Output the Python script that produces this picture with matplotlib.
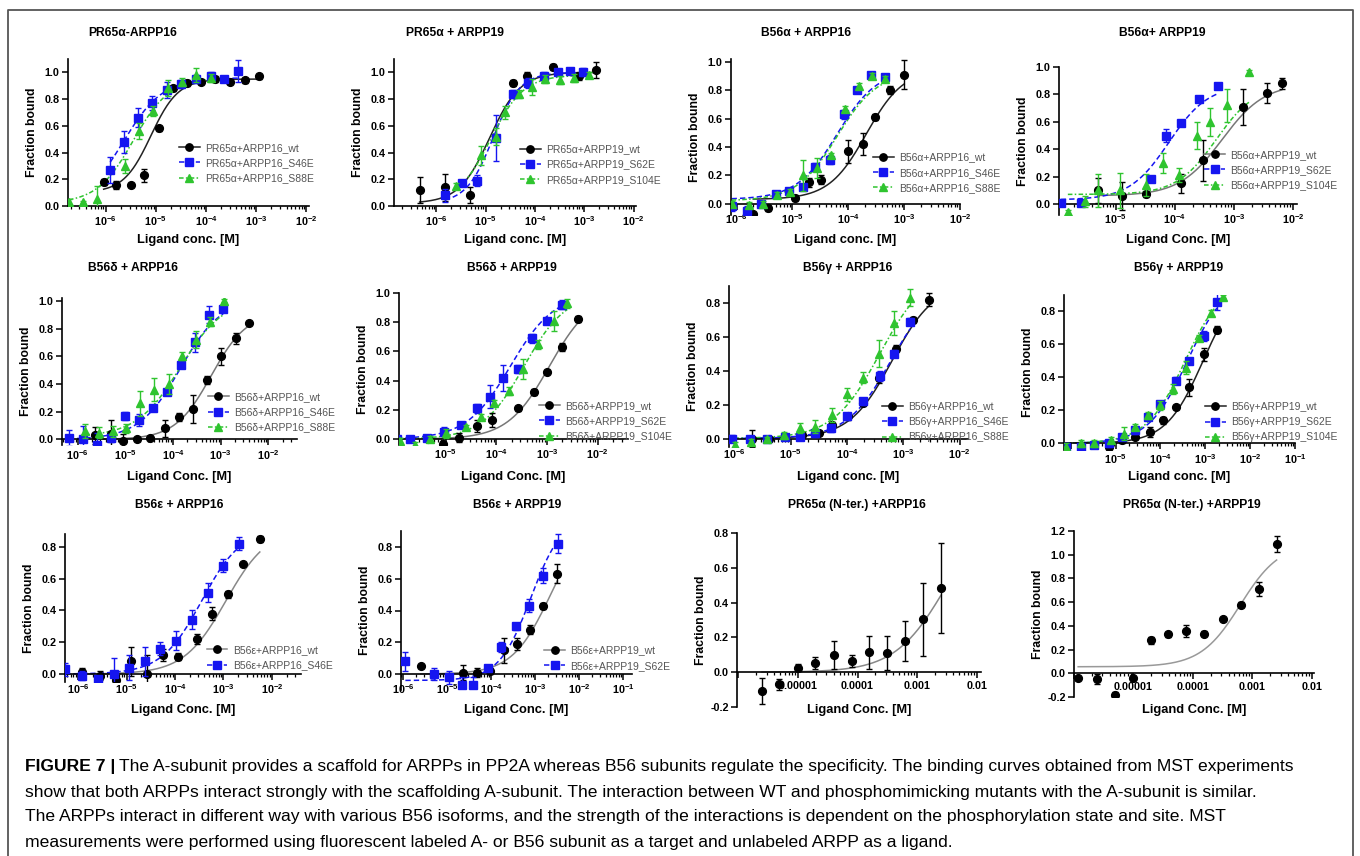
import numpy as np
import matplotlib
matplotlib.use("Agg")
import matplotlib.pyplot as plt
from matplotlib.lines import Line2D
from matplotlib.ticker import FixedLocator, LogLocator, NullFormatter

plt.rcParams['font.family'] = ['Liberation Sans', 'DejaVu Sans']
plt.rcParams['mathtext.fontset'] = 'custom'
plt.rcParams['mathtext.rm'] = 'Liberation Sans'
plt.rcParams['mathtext.bf'] = 'Liberation Sans:bold'

W, H = 1360, 856

# ---- data: log10(ligand conc [M]), fraction bound, error ----
# PR65a - ARPP16
pr16_wt_logc = [-6.04, -5.79, -5.5, -5.23, -4.93, -4.65, -4.38, -4.1, -3.82, -3.52, -3.22, -2.94]
pr16_wt_y = [0.18, 0.155, 0.155, 0.23, 0.58, 0.88, 0.92, 0.93, 0.95, 0.93, 0.94, 0.97]
pr16_wt_err = [0.02, 0.03, 0.015, 0.05, 0.02, 0.02, 0.02, 0.02, 0.02, 0.02, 0.02, 0.02]
pr16_mut1_logc = [-5.91, -5.63, -5.35, -5.08, -4.78, -4.5, -4.2, -3.91, -3.64, -3.37]
pr16_mut1_y = [0.27, 0.48, 0.66, 0.77, 0.87, 0.91, 0.95, 0.97, 0.95, 1.01]
pr16_mut1_err = [0.1, 0.08, 0.07, 0.05, 0.06, 0.03, 0.03, 0.03, 0.02, 0.08]
pr16_mut2_logc = [-6.73, -6.45, -6.17, -5.62, -5.33, -5.06, -4.76, -4.48, -4.2, -3.91]
pr16_mut2_y = [0.03, 0.03, 0.05, 0.30, 0.56, 0.71, 0.88, 0.93, 0.98, 0.96]
pr16_mut2_err = [0.02, 0.01, 0.1, 0.05, 0.06, 0.04, 0.06, 0.03, 0.05, 0.03]

# PR65a + ARPP19
pr19_wt_logc = [-6.34, -5.83, -5.31, -4.45, -4.16, -3.63, -3.11, -2.77]
pr19_wt_y = [0.12, 0.14, 0.08, 0.92, 0.97, 1.04, 0.97, 1.02]
pr19_wt_err = [0.1, 0.1, 0.06, 0.02, 0.03, 0.02, 0.03, 0.06]
pr19_mut1_logc = [-5.83, -5.48, -5.18, -4.79, -4.45, -4.15, -3.82, -3.54, -3.28, -3.03]
pr19_mut1_y = [0.08, 0.17, 0.19, 0.51, 0.84, 0.92, 0.97, 1.0, 1.01, 1.0]
pr19_mut1_err = [0.05, 0.02, 0.04, 0.17, 0.03, 0.04, 0.03, 0.02, 0.02, 0.03]
pr19_mut2_logc = [-5.61, -5.09, -4.8, -4.6, -4.32, -4.05, -3.8, -3.5, -3.2, -2.9]
pr19_mut2_y = [0.15, 0.38, 0.52, 0.7, 0.84, 0.89, 0.95, 0.94, 0.96, 0.98]
pr19_mut2_err = [0.02, 0.07, 0.06, 0.05, 0.03, 0.06, 0.03, 0.03, 0.03, 0.02]

# B56a + ARPP16
a16_wt_logc = [-5.7, -5.44, -4.96, -4.7, -4.48, -4.0, -3.74, -3.52, -3.26, -3.0]
a16_wt_y = [-0.07, -0.03, 0.04, 0.15, 0.17, 0.37, 0.42, 0.61, 0.8, 0.91]
a16_wt_err = [0.01, 0.02, 0.02, 0.03, 0.03, 0.08, 0.08, 0.02, 0.03, 0.1]
a16_mut1_logc = [-6.09, -5.81, -5.56, -5.3, -5.07, -4.81, -4.59, -4.33, -4.07, -3.85, -3.59, -3.35]
a16_mut1_y = [-0.02, -0.05, 0.0, 0.07, 0.09, 0.12, 0.26, 0.31, 0.63, 0.8, 0.91, 0.89]
a16_mut1_err = [0.03, 0.03, 0.02, 0.02, 0.02, 0.02, 0.03, 0.03, 0.03, 0.02, 0.02, 0.02]
a16_mut2_logc = [-6.09, -5.78, -5.52, -5.27, -5.04, -4.81, -4.56, -4.31, -4.06, -3.81, -3.57, -3.35]
a16_mut2_y = [0.0, -0.01, 0.0, 0.06, 0.08, 0.2, 0.25, 0.34, 0.67, 0.83, 0.9, 0.88]
a16_mut2_err = [0.02, 0.02, 0.02, 0.02, 0.02, 0.11, 0.07, 0.02, 0.02, 0.02, 0.02, 0.02]

# B56a + ARPP19
a19_wt_logc = [-5.3, -4.89, -4.48, -3.89, -3.52, -2.85, -2.44, -2.19]
a19_wt_y = [0.1, 0.06, 0.07, 0.15, 0.32, 0.71, 0.81, 0.88]
a19_wt_err = [0.09, 0.1, 0.02, 0.07, 0.15, 0.13, 0.07, 0.04]
a19_mut1_logc = [-5.93, -5.59, -4.41, -4.15, -3.89, -3.59, -3.26]
a19_mut1_y = [0.01, 0.01, 0.18, 0.5, 0.59, 0.77, 0.86]
a19_mut1_err = [0.02, 0.02, 0.02, 0.05, 0.02, 0.02, 0.02]
a19_mut2_logc = [-5.81, -5.52, -5.3, -4.93, -4.48, -4.2, -3.93, -3.63, -3.41, -3.11, -2.74]
a19_mut2_y = [-0.06, 0.02, 0.1, 0.1, 0.14, 0.3, 0.21, 0.5, 0.6, 0.72, 0.96]
a19_mut2_err = [0.02, 0.04, 0.12, 0.13, 0.08, 0.07, 0.05, 0.1, 0.1, 0.12, 0.02]

# B56d + ARPP16
d16_wt_logc = [-5.63, -5.31, -5.05, -4.76, -4.48, -4.17, -3.87, -3.59, -3.29, -3.0, -2.69, -2.41]
d16_wt_y = [0.03, 0.04, -0.01, 0.0, 0.01, 0.08, 0.16, 0.22, 0.43, 0.6, 0.73, 0.84]
d16_wt_err = [0.06, 0.1, 0.05, 0.01, 0.01, 0.06, 0.03, 0.1, 0.03, 0.06, 0.04, 0.01]
d16_mut1_logc = [-6.19, -5.89, -5.59, -5.31, -5.0, -4.72, -4.42, -4.13, -3.83, -3.53, -3.25, -2.95]
d16_mut1_y = [0.01, 0.0, -0.04, 0.01, 0.17, 0.14, 0.23, 0.34, 0.54, 0.7, 0.9, 0.94]
d16_mut1_err = [0.06, 0.1, 0.09, 0.03, 0.03, 0.04, 0.01, 0.02, 0.02, 0.07, 0.06, 0.02]
d16_mut2_logc = [-5.84, -5.56, -5.26, -4.98, -4.69, -4.39, -4.09, -3.81, -3.51, -3.22, -2.94]
d16_mut2_y = [0.06, 0.05, 0.06, 0.08, 0.26, 0.36, 0.4, 0.6, 0.72, 0.85, 1.0]
d16_mut2_err = [0.05, 0.04, 0.04, 0.03, 0.09, 0.08, 0.07, 0.03, 0.06, 0.03, 0.01]

# B56d + ARPP19
d19_wt_logc = [-5.35, -5.05, -4.74, -4.39, -4.09, -3.57, -3.26, -3.0, -2.7, -2.39]
d19_wt_y = [0.0, -0.03, 0.01, 0.09, 0.13, 0.21, 0.32, 0.46, 0.63, 0.82]
d19_wt_err = [0.01, 0.02, 0.03, 0.04, 0.05, 0.02, 0.02, 0.01, 0.03, 0.02]
d19_mut1_logc = [-5.96, -5.7, -5.36, -5.04, -4.7, -4.39, -4.13, -3.87, -3.57, -3.3, -3.0, -2.7]
d19_mut1_y = [0.0, 0.0, 0.01, 0.05, 0.1, 0.21, 0.29, 0.42, 0.48, 0.69, 0.81, 0.92]
d19_mut1_err = [0.02, 0.02, 0.02, 0.03, 0.02, 0.03, 0.08, 0.09, 0.03, 0.03, 0.02, 0.03]
d19_mut2_logc = [-5.9, -5.6, -5.3, -5.0, -4.6, -4.3, -4.04, -3.74, -3.48, -3.17, -2.87, -2.6]
d19_mut2_y = [-0.01, -0.04, 0.0, 0.04, 0.08, 0.15, 0.25, 0.33, 0.48, 0.65, 0.81, 0.93]
d19_mut2_err = [0.02, 0.02, 0.02, 0.03, 0.02, 0.02, 0.02, 0.03, 0.07, 0.03, 0.07, 0.03]

# B56g + ARPP16
g16_wt_logc = [-5.69, -5.38, -4.8, -4.5, -4.26, -3.98, -3.71, -3.44, -3.13, -2.82, -2.55]
g16_wt_y = [0.0, 0.0, 0.02, 0.03, 0.08, 0.13, 0.21, 0.36, 0.53, 0.7, 0.82]
g16_wt_err = [0.05, 0.01, 0.01, 0.01, 0.02, 0.02, 0.02, 0.03, 0.02, 0.02, 0.04]
g16_mut1_logc = [-6.04, -5.73, -5.42, -5.11, -4.84, -4.57, -4.29, -4.0, -3.71, -3.42, -3.16, -2.88]
g16_mut1_y = [0.0, 0.0, 0.0, 0.01, 0.01, 0.03, 0.06, 0.13, 0.22, 0.37, 0.5, 0.69]
g16_mut1_err = [0.02, 0.01, 0.01, 0.01, 0.02, 0.02, 0.02, 0.02, 0.02, 0.03, 0.02, 0.02]
g16_mut2_logc = [-6.0, -5.7, -5.42, -5.13, -4.84, -4.57, -4.27, -4.0, -3.71, -3.44, -3.16, -2.88]
g16_mut2_y = [-0.04, -0.02, 0.0, 0.02, 0.06, 0.07, 0.14, 0.26, 0.36, 0.5, 0.68, 0.83]
g16_mut2_err = [0.02, 0.02, 0.01, 0.02, 0.03, 0.04, 0.04, 0.04, 0.03, 0.08, 0.07, 0.05]

# B56g + ARPP19
g19_wt_logc = [-5.14, -4.86, -4.57, -4.23, -3.94, -3.65, -3.37, -3.03, -2.74]
g19_wt_y = [-0.02, 0.02, 0.04, 0.07, 0.14, 0.22, 0.34, 0.54, 0.69]
g19_wt_err = [0.02, 0.02, 0.01, 0.03, 0.02, 0.01, 0.05, 0.04, 0.02]
g19_mut1_logc = [-6.1, -5.77, -5.48, -5.14, -4.86, -4.57, -4.28, -4.0, -3.65, -3.37, -3.03, -2.74]
g19_mut1_y = [-0.02, -0.02, -0.01, 0.0, 0.04, 0.08, 0.16, 0.24, 0.38, 0.5, 0.65, 0.86]
g19_mut1_err = [0.02, 0.02, 0.02, 0.02, 0.02, 0.02, 0.01, 0.02, 0.02, 0.02, 0.03, 0.05]
g19_mut2_logc = [-6.1, -5.77, -5.48, -5.1, -4.81, -4.57, -4.28, -4.0, -3.71, -3.42, -3.13, -2.88, -2.6]
g19_mut2_y = [-0.02, 0.0, 0.0, 0.02, 0.06, 0.1, 0.17, 0.23, 0.33, 0.46, 0.64, 0.79, 0.89]
g19_mut2_err = [0.02, 0.02, 0.02, 0.02, 0.04, 0.02, 0.02, 0.03, 0.03, 0.04, 0.02, 0.02, 0.01]

# B56e + ARPP16
e16_wt_logc = [-5.91, -5.55, -5.21, -4.91, -4.57, -4.25, -3.94, -3.55, -3.23, -2.91, -2.59, -2.25]
e16_wt_y = [0.01, -0.01, -0.04, 0.08, 0.0, 0.12, 0.11, 0.22, 0.38, 0.5, 0.69, 0.85]
e16_wt_err = [0.03, 0.03, 0.02, 0.09, 0.12, 0.04, 0.02, 0.03, 0.04, 0.02, 0.01, 0.02]
e16_mut1_logc = [-6.27, -5.91, -5.59, -5.25, -4.95, -4.61, -4.3, -3.97, -3.64, -3.32, -3.0, -2.68]
e16_mut1_y = [0.03, -0.01, -0.03, 0.0, 0.04, 0.08, 0.16, 0.21, 0.34, 0.51, 0.68, 0.82]
e16_mut1_err = [0.04, 0.03, 0.02, 0.1, 0.08, 0.09, 0.04, 0.06, 0.06, 0.06, 0.04, 0.04]

# B56e + ARPP19
e19_wt_logc = [-5.6, -4.65, -4.33, -4.02, -3.72, -3.42, -3.12, -2.82, -2.5]
e19_wt_y = [0.05, 0.01, 0.01, 0.02, 0.15, 0.19, 0.28, 0.43, 0.63]
e19_wt_err = [0.01, 0.05, 0.03, 0.02, 0.08, 0.04, 0.03, 0.02, 0.06]
e19_mut1_logc = [-5.95, -5.31, -4.96, -4.66, -4.42, -4.07, -3.77, -3.43, -3.13, -2.83, -2.49]
e19_mut1_y = [0.08, 0.0, -0.02, -0.07, -0.07, 0.04, 0.17, 0.3, 0.43, 0.62, 0.82]
e19_mut1_err = [0.06, 0.04, 0.04, 0.05, 0.05, 0.02, 0.03, 0.02, 0.04, 0.05, 0.06]

# PR65a (N-ter.) + ARPP16 / ARPP19
n16_logc = [-5.6, -5.31, -5.0, -4.71, -4.4, -4.1, -3.8, -3.5, -3.2, -2.9, -2.6]
n16_y = [-0.11, -0.07, 0.025, 0.055, 0.1, 0.065, 0.115, 0.11, 0.18, 0.305, 0.485]
n16_err = [0.075, 0.03, 0.02, 0.035, 0.08, 0.035, 0.095, 0.1, 0.115, 0.21, 0.26]
n19_logc = [-5.93, -5.61, -5.31, -5.01, -4.7, -4.41, -4.11, -3.81, -3.5, -3.19, -2.89, -2.59]
n19_y = [-0.04, -0.05, -0.18, -0.04, 0.28, 0.33, 0.355, 0.335, 0.46, 0.58, 0.71, 1.09]
n19_err = [0.01, 0.04, 0.02, 0.01, 0.03, 0.02, 0.05, 0.02, 0.01, 0.02, 0.06, 0.07]

# fitted binding curves: (bottom, top, logEC50, hill slope)
pr16_fits = [(0.1, 0.95, -5.1, 1.6), (0.0, 0.96, -5.65, 1.1), (0.02, 0.96, -5.45, 1.2)]
pr19_fits = [(0.02, 1.0, -4.92, 1.4), (0.02, 1.0, -4.85, 1.6), (0.02, 0.98, -4.9, 1.3)]
a16_fits = [(0.03, 0.95, -3.68, 1.3), (0.03, 0.95, -4.2, 1.2), (0.02, 0.93, -4.2, 1.2)]
a19_fits = [(0.06, 0.88, -3.2, 1.2), (0.03, 0.87, -4.1, 1.3), (0.07, 0.87, -3.3, 1.3)]
d16_fits = [(0.0, 0.92, -3.2, 1.15), (0.0, 1.02, -3.85, 1.0), (0.02, 1.02, -3.85, 0.95)]
d19_fits = [(0.0, 1.0, -2.95, 1.05), (0.0, 1.0, -3.72, 1.0), (0.0, 1.0, -3.45, 1.05)]
g16_fits = [(0.0, 0.92, -3.2, 1.15), (0.0, 0.92, -3.22, 1.1), (0.0, 1.0, -3.42, 1.05)]
g19_fits = [(0.0, 1.0, -3.05, 1.05), (0.0, 1.0, -3.4, 1.0), (0.0, 1.0, -3.45, 1.0)]
e16_fits = [(0.0, 0.92, -2.95, 1.0), (0.0, 0.92, -3.45, 1.05)]
e19_fits = [(0.0, 1.0, -2.65, 1.0), (-0.04, 1.0, -3.1, 1.2)]
n16_fits = [(0.0, 1.0, -2.5, 1.0)]
n19_fits = [(0.055, 1.1, -3.2, 1.3)]

titles = ['PR65\u03b1-ARPP16', 'PR65\u03b1 + ARPP19', 'B56\u03b1 + ARPP16', 'B56\u03b1+ ARPP19',
          'B56\u03b4 + ARPP16', 'B56\u03b4 + ARPP19', 'B56\u03b3 + ARPP16', 'B56\u03b3 + ARPP19',
          'B56\u03b5 + ARPP16', 'B56\u03b5 + ARPP19',
          'PR65\u03b1 (N-ter.) +ARPP16', 'PR65\u03b1 (N-ter.) +ARPP19']
xlabels = ['Ligand conc. [M]', 'Ligand conc. [M]', 'Ligand conc. [M]', 'Ligand Conc. [M]',
           'Ligand Conc. [M]', 'Ligand Conc. [M]', 'Ligand conc. [M]', 'Ligand conc. [M]',
           'Ligand Conc. [M]', 'Ligand Conc. [M]', 'Ligand Conc. [M]', 'Ligand Conc. [M]']
legend_labels = [
    ['PR65\u03b1+ARPP16_wt', 'PR65\u03b1+ARPP16_S46E', 'PR65\u03b1+ARPP16_S88E'],
    ['PR65\u03b1+ARPP19_wt', 'PR65\u03b1+ARPP19_S62E', 'PR65\u03b1+ARPP19_S104E'],
    ['B56\u03b1+ARPP16_wt', 'B56\u03b1+ARPP16_S46E', 'B56\u03b1+ARPP16_S88E'],
    ['B56\u03b1+ARPP19_wt', 'B56\u03b1+ARPP19_S62E', 'B56\u03b1+ARPP19_S104E'],
    ['B56\u03b4+ARPP16_wt', 'B56\u03b4+ARPP16_S46E', 'B56\u03b4+ARPP16_S88E'],
    ['B56\u03b4+ARPP19_wt', 'B56\u03b4+ARPP19_S62E', 'B56\u03b4+ARPP19_S104E'],
    ['B56\u03b3+ARPP16_wt', 'B56\u03b3+ARPP16_S46E', 'B56\u03b3+ARPP16_S88E'],
    ['B56\u03b3+ARPP19_wt', 'B56\u03b3+ARPP19_S62E', 'B56\u03b3+ARPP19_S104E'],
    ['B56\u03b5+ARPP16_wt', 'B56\u03b5+ARPP16_S46E'],
    ['B56\u03b5+ARPP19_wt', 'B56\u03b5+ARPP19_S62E'],
    [], [],
]
caption_head = 'FIGURE 7 |'
caption_lines = [
    'The A-subunit provides a scaffold for ARPPs in PP2A whereas B56 subunits regulate the specificity. The binding curves obtained from MST experiments',
    'show that both ARPPs interact strongly with the scaffolding A-subunit. The interaction between WT and phosphomimicking mutants with the A-subunit is similar.',
    'The ARPPs interact in different way with various B56 isoforms, and the strength of the interactions is dependent on the phosphorylation state and site. MST',
    'measurements were performed using fluorescent labeled A- or B56 subunit as a target and unlabeled ARPP as a ligand.',
]

series_by_panel = [
    [(pr16_wt_logc, pr16_wt_y, pr16_wt_err), (pr16_mut1_logc, pr16_mut1_y, pr16_mut1_err), (pr16_mut2_logc, pr16_mut2_y, pr16_mut2_err)],
    [(pr19_wt_logc, pr19_wt_y, pr19_wt_err), (pr19_mut1_logc, pr19_mut1_y, pr19_mut1_err), (pr19_mut2_logc, pr19_mut2_y, pr19_mut2_err)],
    [(a16_wt_logc, a16_wt_y, a16_wt_err), (a16_mut1_logc, a16_mut1_y, a16_mut1_err), (a16_mut2_logc, a16_mut2_y, a16_mut2_err)],
    [(a19_wt_logc, a19_wt_y, a19_wt_err), (a19_mut1_logc, a19_mut1_y, a19_mut1_err), (a19_mut2_logc, a19_mut2_y, a19_mut2_err)],
    [(d16_wt_logc, d16_wt_y, d16_wt_err), (d16_mut1_logc, d16_mut1_y, d16_mut1_err), (d16_mut2_logc, d16_mut2_y, d16_mut2_err)],
    [(d19_wt_logc, d19_wt_y, d19_wt_err), (d19_mut1_logc, d19_mut1_y, d19_mut1_err), (d19_mut2_logc, d19_mut2_y, d19_mut2_err)],
    [(g16_wt_logc, g16_wt_y, g16_wt_err), (g16_mut1_logc, g16_mut1_y, g16_mut1_err), (g16_mut2_logc, g16_mut2_y, g16_mut2_err)],
    [(g19_wt_logc, g19_wt_y, g19_wt_err), (g19_mut1_logc, g19_mut1_y, g19_mut1_err), (g19_mut2_logc, g19_mut2_y, g19_mut2_err)],
    [(e16_wt_logc, e16_wt_y, e16_wt_err), (e16_mut1_logc, e16_mut1_y, e16_mut1_err)],
    [(e19_wt_logc, e19_wt_y, e19_wt_err), (e19_mut1_logc, e19_mut1_y, e19_mut1_err)],
    [(n16_logc, n16_y, n16_err)],
    [(n19_logc, n19_y, n19_err)],
]
fits_by_panel = [pr16_fits, pr19_fits, a16_fits, a19_fits, d16_fits, d19_fits,
                 g16_fits, g19_fits, e16_fits, e19_fits, n16_fits, n19_fits]

# ---- layout (pixels): axes left, right, top, bottom ----
boxes = [(68, 309, 59, 206), (394, 636, 59, 206), (731, 960, 59, 215), (1059, 1297, 67, 215),
         (62, 297, 298, 445), (399, 628, 293, 445), (729, 968, 286, 447), (1064, 1295, 295, 450),
         (65, 301, 534, 682), (401, 632, 531, 690), (737, 981, 533, 707), (1074, 1314, 531, 697)]
xlims = [(-6.75, -1.95), (-6.86, -1.95), (-6.1, -2.0), (-5.96, -1.93),
         (-6.33, -1.4), (-5.92, -1.4), (-6.1, -1.85), (-6.15, -1.0),
         (-6.27, -1.4), (-6.05, -0.8), (-6.02, -1.93), (-6.0, -1.96)]
ylims = [(0, 1.1), (0, 1.1), (-0.08, 1.02), (-0.08, 1.0),
         (-0.04, 1.02), (-0.04, 1.0), (-0.05, 0.9), (-0.04, 0.9),
         (-0.05, 0.88), (-0.1, 0.9), (-0.2, 0.8), (-0.2, 1.2)]
ytop = [1.0, 1.0, 1.0, 1.0, 1.0, 1.0, 0.8, 0.8, 0.8, 0.8, 0.8, 1.2]
ybot = [0.0] * 10 + [-0.2, -0.2]
xlabeled = [[-6, -5, -4, -3, -2], [-6, -5, -4, -3, -2], [-6, -5, -4, -3, -2], [-5, -4, -3, -2],
            [-6, -5, -4, -3, -2], [-5, -4, -3, -2], [-6, -5, -4, -3, -2], [-5, -4, -3, -2, -1],
            [-6, -5, -4, -3, -2], [-6, -5, -4, -3, -2, -1], [-5, -4, -3, -2], [-5, -4, -3, -2]]
decimal_ticks = [False] * 10 + [True, True]
title_pos = [(133, 33), (455, 33), (806, 33), (1162, 33),
             (133, 268), (512, 268), (848, 268), (1179, 268),
             (179, 505), (517, 505), (857, 505), (1192, 505)]
xlabel_y = [240] * 4 + [477] * 4 + [710] * 4
legend_anchor = [(0.46, 0.43), (0.52, 0.42), (0.62, 0.40), (0.61, 0.44),
                 (0.62, 0.36), (0.61, 0.29), (0.64, 0.28), (0.61, 0.31),
                 (0.60, 0.25), (0.62, 0.28), None, None]
wt_line = ['#222222', '#222222', '#222222', '#777777', '#777777', '#777777',
           '#222222', '#222222', '#888888', '#888888', '#888888', '#999999']

colors = ['black', '#1515f0', '#2fc42f']
markers = ['o', 's', '^']
dashes = ['-', (0, (3.5, 2)), (0, (3, 1.5, 1, 1.5))]

def hill(logc, bottom, top, logec50, slope):
    return bottom + (top - bottom) / (1 + 10 ** ((logec50 - logc) * slope))

fig = plt.figure(figsize=(W / 100, H / 100), dpi=100)

for i in range(12):
    l, r, t, b = boxes[i]
    ax = fig.add_axes([l / W, 1 - b / H, (r - l) / W, (b - t) / H])
    ax.set_xscale('log')
    for j, ((logc, yv, ev), fit) in enumerate(zip(series_by_panel[i], fits_by_panel[i])):
        lc = np.asarray(logc)
        xs = np.linspace(lc.min(), lc.max(), 200)
        lcol = wt_line[i] if j == 0 else colors[j]
        ax.plot(10 ** xs, hill(xs, *fit), color=lcol, lw=1.1, ls=dashes[j], zorder=2)
        ax.errorbar(10 ** lc, yv, yerr=ev, fmt=markers[j], ms=5.6 if j == 0 else 5.3,
                    color=colors[j], ecolor=colors[j], elinewidth=1.0, capsize=2.4,
                    capthick=1.0, zorder=3 + j)
    ax.set_xlim(10 ** xlims[i][0], 10 ** xlims[i][1])
    ax.set_ylim(*ylims[i])
    ax.spines['top'].set_visible(False)
    ax.spines['right'].set_visible(False)
    ax.spines['bottom'].set_position(('data', 0))
    for s in ('left', 'bottom'):
        ax.spines[s].set_linewidth(1.2)
    yt = np.round(np.arange(ybot[i], ytop[i] + 0.01, 0.2), 1)
    ax.yaxis.set_major_locator(FixedLocator(yt))
    ax.set_yticklabels(['%.1f' % v for v in yt])
    lo, hi = xlims[i]
    decs = list(range(int(np.ceil(lo)), int(np.floor(hi)) + 1))
    ax.xaxis.set_major_locator(FixedLocator([10.0 ** d for d in decs]))
    labs = []
    for d in decs:
        if d not in xlabeled[i]:
            labs.append('')
        elif decimal_ticks[i]:
            labs.append(('%.' + str(-d) + 'f') % (10.0 ** d))
        else:
            labs.append(r'$\mathbf{10^{%d}}$' % d)
    ax.set_xticklabels(labs)
    ax.xaxis.set_minor_locator(LogLocator(base=10, subs=np.arange(2, 10), numticks=60))
    ax.xaxis.set_minor_formatter(NullFormatter())
    ax.tick_params(axis='both', which='major', direction='out', length=4, width=1.1,
                   labelsize=7.8, pad=2)
    ax.tick_params(axis='x', which='minor', direction='out', length=2.3, width=0.9)
    for lab in ax.get_yticklabels() + ax.get_xticklabels():
        lab.set_fontweight('bold')
    ax.patch.set_alpha(0)

    if legend_anchor[i] is not None:
        handles = [Line2D([0], [0], color=(wt_line[i] if j == 0 else colors[j]),
                          marker=markers[j], markerfacecolor=colors[j], markeredgecolor=colors[j],
                          ms=5.3, lw=1.1, ls=dashes[j])
                   for j in range(len(legend_labels[i]))]
        ax.legend(handles, legend_labels[i], loc='upper left', bbox_to_anchor=legend_anchor[i],
                  frameon=False, fontsize=7.5, labelcolor='#555555', handlelength=2.0,
                  handletextpad=0.5, borderpad=0, borderaxespad=0, labelspacing=0.5)

    tx, ty = title_pos[i]
    fig.text(tx / W, 1 - ty / H, titles[i], ha='center', va='center', fontsize=8.7,
             fontweight='bold')
    fig.text((l + r) / 2 / W, 1 - xlabel_y[i] / H, xlabels[i], ha='center', va='center',
             fontsize=9.3, fontweight='bold')
    fig.text((l - 36) / W, 1 - (t + b) / 2 / H, 'Fraction bound', rotation=90, ha='center',
             va='center', fontsize=8.8, fontweight='bold')

# outer frame
fig.add_artist(Line2D([8 / W, 8 / W, 1353 / W, 1353 / W], [0, 1 - 10 / H, 1 - 10 / H, 0],
                      transform=fig.transFigure, color='#555555', lw=1.3))

# caption
cap_fs = 12.6
cap_y = [766, 792, 817, 842]
head = fig.text(25 / W, 1 - cap_y[0] / H, caption_head, fontsize=cap_fs, fontweight='bold',
                va='center', ha='left')
fig.canvas.draw()
hb = head.get_window_extent()
fig.text((hb.x1 + 4) / W, 1 - cap_y[0] / H, caption_lines[0], fontsize=cap_fs, va='center', ha='left')
for k in range(1, 4):
    fig.text(25 / W, 1 - cap_y[k] / H, caption_lines[k], fontsize=cap_fs, va='center', ha='left')

fig.savefig('out.png', dpi=100)
